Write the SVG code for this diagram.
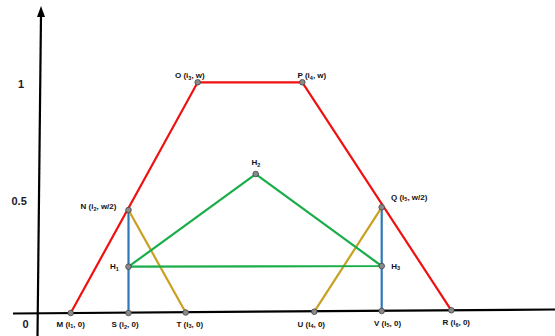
<svg xmlns="http://www.w3.org/2000/svg" width="555" height="336" viewBox="0 0 555 336">
<style>
.lbl{font-family:"Liberation Sans",Arial,sans-serif;font-weight:bold;font-size:8px;fill:#111}
.ax{font-family:"Liberation Sans",Arial,sans-serif;font-weight:bold;font-size:11px;fill:#1a1a2a}
.sub{font-size:5.5px}
.red{stroke:#f01010;stroke-width:2.2;fill:none}
.grn{stroke:#1aad4a;stroke-width:2.2;fill:none}
.blu{stroke:#2e78b8;stroke-width:2.2;fill:none}
.gld{stroke:#c9a020;stroke-width:2.2;fill:none}
.pt{fill:#8a8a8a;stroke:#444;stroke-width:0.8}
</style>
<rect width="555" height="336" fill="#fff"/>
<g id="axes">
<line x1="37.5" y1="336" x2="41" y2="14" stroke="#000" stroke-width="2.2"/>
<path d="M37,17 L41,6 L45,17 Z" fill="#000"/>
<line x1="13" y1="313.5" x2="555" y2="309.5" stroke="#000" stroke-width="2.2"/>
<text class="ax" x="18" y="88">1</text>
<text class="ax" x="11.5" y="205">0.5</text>
<text class="ax" x="22.5" y="328">0</text>
</g>
<g id="connectors">
<polyline class="red" points="70.7,313 197.7,82.3 302.3,82.3 451.3,310.3"/>
<line class="blu" x1="128.5" y1="313" x2="128.5" y2="210"/>
<line class="blu" x1="381.7" y1="311" x2="381.7" y2="207.3"/>
<line class="gld" x1="128.5" y1="210" x2="185.7" y2="312.5"/>
<line class="gld" x1="381.7" y1="207.3" x2="314.3" y2="311.7"/>
<polyline class="grn" points="128.5,266.7 255.7,174 381.7,266 128.5,266.7"/>
</g>
<g id="M"><circle class="pt" cx="70.7" cy="313" r="2.8"/><text class="lbl" x="56.5" y="326.5">M (i<tspan class="sub" dy="1.5">1</tspan><tspan dy="-1.5">, 0)</tspan></text></g>
<g id="S"><circle class="pt" cx="128.5" cy="313" r="2.8"/><text class="lbl" x="111.5" y="327">S (i<tspan class="sub" dy="1.5">2</tspan><tspan dy="-1.5">, 0)</tspan></text></g>
<g id="T"><circle class="pt" cx="185.7" cy="312.5" r="2.8"/><text class="lbl" x="176.5" y="326.5">T (i<tspan class="sub" dy="1.5">3</tspan><tspan dy="-1.5">, 0)</tspan></text></g>
<g id="U"><circle class="pt" cx="314.3" cy="311.7" r="2.8"/><text class="lbl" x="297.5" y="326.5">U (i<tspan class="sub" dy="1.5">4</tspan><tspan dy="-1.5">, 0)</tspan></text></g>
<g id="V"><circle class="pt" cx="381.7" cy="311" r="2.8"/><text class="lbl" x="374" y="325.5">V (i<tspan class="sub" dy="1.5">5</tspan><tspan dy="-1.5">, 0)</tspan></text></g>
<g id="R"><circle class="pt" cx="451.3" cy="310.3" r="2.8"/><text class="lbl" x="442.5" y="325">R (i<tspan class="sub" dy="1.5">6</tspan><tspan dy="-1.5">, 0)</tspan></text></g>
<g id="O"><circle class="pt" cx="197.7" cy="82.3" r="2.8"/><text class="lbl" x="175" y="78">O (i<tspan class="sub" dy="1.5">3</tspan><tspan dy="-1.5">, w)</tspan></text></g>
<g id="P"><circle class="pt" cx="302.3" cy="82.3" r="2.8"/><text class="lbl" x="297.5" y="78">P (i<tspan class="sub" dy="1.5">4</tspan><tspan dy="-1.5">, w)</tspan></text></g>
<g id="N"><circle class="pt" cx="128.5" cy="210" r="2.8"/><text class="lbl" x="80.5" y="209">N (i<tspan class="sub" dy="1.5">2</tspan><tspan dy="-1.5">, w/2)</tspan></text></g>
<g id="Q"><circle class="pt" cx="381.7" cy="207.3" r="2.8"/><text class="lbl" x="391" y="199.5">Q (i<tspan class="sub" dy="1.5">5</tspan><tspan dy="-1.5">, w/2)</tspan></text></g>
<g id="H1"><circle class="pt" cx="128.5" cy="266.7" r="2.8"/><text class="lbl" x="110" y="269">H<tspan class="sub" dy="1.5">1</tspan></text></g>
<g id="H2"><circle class="pt" cx="255.7" cy="174" r="2.8"/><text class="lbl" x="251.5" y="165">H<tspan class="sub" dy="1.5">2</tspan></text></g>
<g id="H3"><circle class="pt" cx="381.7" cy="266" r="2.8"/><text class="lbl" x="391.3" y="268.5">H<tspan class="sub" dy="1.5">3</tspan></text></g>
</svg>
